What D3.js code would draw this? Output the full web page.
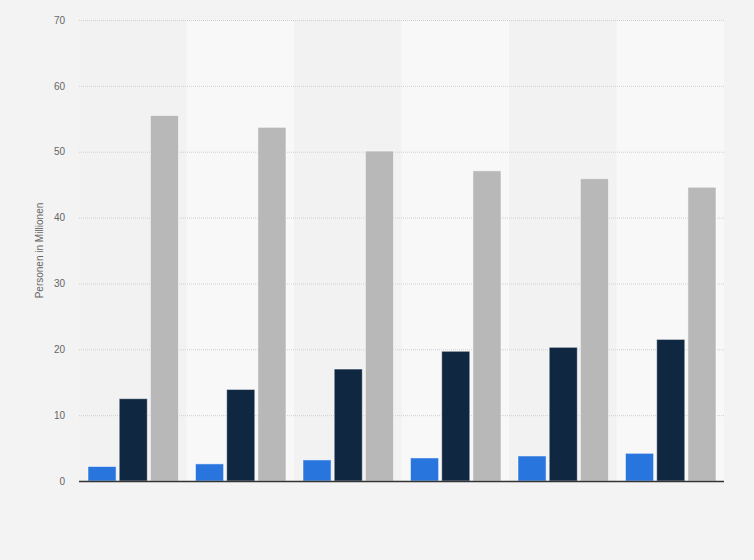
<!DOCTYPE html>
<html>
<head>
<meta charset="utf-8">
<script src="https://cdn.jsdelivr.net/npm/d3@7"></script>
<style>
  body { margin: 0; background: #f3f3f3; }
  svg { display: block; font-family: "Liberation Sans", Arial, sans-serif; }
</style>
</head>
<body>
<div id="chart"></div>
<script>
// one group per (unlabelled) category, three series each
var groups = ["g1", "g2", "g3", "g4", "g5", "g6"];
var seriesA = [2.2, 2.6, 3.2, 3.5, 3.8, 4.2];
var seriesB = [12.5, 13.9, 17.0, 19.7, 20.3, 21.5];
var seriesC = [55.5, 53.7, 50.1, 47.1, 45.9, 44.6];
var yTicks = [0, 10, 20, 30, 40, 50, 60, 70];

var width = 754, height = 560;
var margin = { top: 20, right: 30, bottom: 79, left: 79 };
var colors = ["#2876dd", "#0f2740", "#b8b8b8"];

var svg = d3.select("#chart").append("svg")
  .attr("width", width)
  .attr("height", height);

var x = d3.scaleBand()
  .domain(groups)
  .range([margin.left, width - margin.right]);

var xInner = d3.scaleBand()
  .domain([0, 1, 2])
  .range([9, x.bandwidth() - 8])
  .paddingInner(0.1);

var y = d3.scaleLinear()
  .domain([0, 70])
  .range([height - margin.bottom, margin.top]);

// alternating column bands
svg.append("g").selectAll("rect")
  .data(groups)
  .enter().append("rect")
  .attr("x", function (d) { return x(d); })
  .attr("y", margin.top)
  .attr("width", x.bandwidth())
  .attr("height", y(0) - margin.top)
  .attr("fill", function (d, i) { return i % 2 ? "#f8f8f8" : "#f2f2f2"; });

// gridlines
svg.append("g").selectAll("line")
  .data(yTicks.slice(1))
  .enter().append("line")
  .attr("x1", margin.left)
  .attr("x2", width - margin.right)
  .attr("y1", function (d) { return y(d) + 0.5; })
  .attr("y2", function (d) { return y(d) + 0.5; })
  .attr("stroke", "#d0d0d0")
  .attr("stroke-dasharray", "1,1");

// y axis labels
var yAxis = d3.axisLeft(y).tickValues(yTicks).tickSize(0).tickPadding(14);
svg.append("g")
  .attr("transform", "translate(" + margin.left + ",0)")
  .call(yAxis)
  .call(function (g) { g.select(".domain").remove(); })
  .selectAll("text")
  .attr("fill", "#666")
  .style("font-size", "10px");

svg.append("text")
  .attr("transform", "translate(43," + (y(35) ) + ") rotate(-90)")
  .attr("text-anchor", "middle")
  .attr("fill", "#666")
  .style("font-size", "10px")
  .text("Personen in Millionen");

var rows = groups.map(function (g, i) {
  return { group: g, values: [seriesA[i], seriesB[i], seriesC[i]] };
});

var gBars = svg.append("g").selectAll("g")
  .data(rows)
  .enter().append("g")
  .attr("transform", function (d) { return "translate(" + x(d.group) + ",0)"; });

gBars.selectAll("rect")
  .data(function (d) { return d.values; })
  .enter().append("rect")
  .attr("x", function (d, i) { return xInner(i); })
  .attr("y", function (d) { return y(d); })
  .attr("width", xInner.bandwidth())
  .attr("height", function (d) { return y(0) - y(d); })
  .attr("fill", function (d, i) { return colors[i]; })
  .attr("stroke", "rgba(255,255,255,0.5)")
  .attr("stroke-width", 1);

// baseline
svg.append("line")
  .attr("x1", margin.left)
  .attr("x2", width - margin.right)
  .attr("y1", y(0) + 0.5)
  .attr("y2", y(0) + 0.5)
  .attr("stroke", "#333")
  .attr("stroke-width", 1.5);
</script>
</body>
</html>
